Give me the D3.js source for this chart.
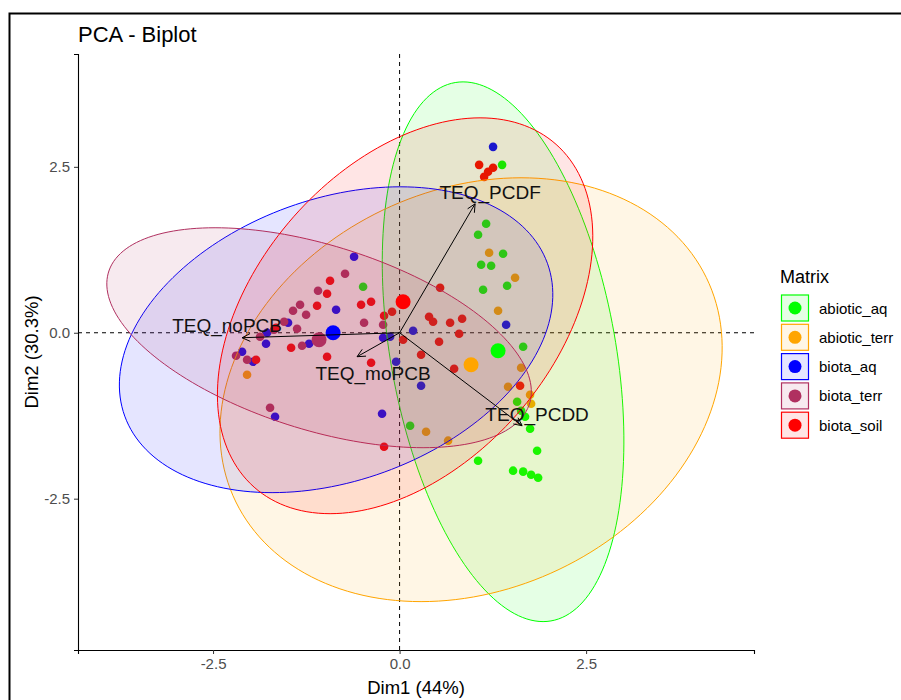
<!DOCTYPE html>
<html>
<head>
<meta charset="utf-8">
<script src="https://cdn.jsdelivr.net/npm/d3@7"></script>
<style>
  body { margin: 0; background: #fff; }
  text { font-family: "Liberation Sans", Arial, sans-serif; }
</style>
</head>
<body>
<div id="chart"></div>
<script>
// groups and colours
const groups = ['abiotic_aq', 'abiotic_terr', 'biota_aq', 'biota_terr', 'biota_soil'];
const groupColors = ['#00FF00', '#FFA500', '#0000FF', '#B03060', '#FF0000'];

// individuals (Dim1, Dim2) per group
const abioticAqDim1 = [1.374, 1.160, 1.052, 1.387, 1.093, 1.227, 1.441, 1.119, -0.489, 1.656, 0.141, 1.575, 1.629, 1.682, 1.749, 1.843, 1.052, 1.521, 1.656, 1.763, 1.857];
const abioticAqDim2 = [2.530, 1.642, 1.476, 1.190, 1.024, 1.009, 0.708, 0.648, 0.693, -0.211, -1.401, -1.039, -1.175, -1.265, -1.446, -1.777, -1.928, -2.078, -2.093, -2.139, -2.184];

const abioticTerrDim1 = [1.200, 1.548, 1.320, 1.629, 1.454, 1.749, 1.763, 0.355, 0.650, -2.044];
const abioticTerrDim2 = [1.205, 0.828, 0.331, -0.527, -0.813, -0.934, -1.069, -1.491, -1.626, -0.633];

const biotaAqDim1 = [1.253, 1.428, 0.181, -0.047, 0.288, -0.235, -0.610, -0.851, -1.495, -1.776, -1.790, -1.213, -0.127, -0.221, -2.111, -1.964, -1.669];
const biotaAqDim2 = [2.801, 0.120, 0.030, -0.437, -0.798, -1.220, 1.145, 0.346, 0.151, 0.000, -0.166, -0.166, -0.060, -0.075, -0.286, -0.437, -1.265];

const biotaTerrDim1 = [-0.731, -1.093, -1.428, -1.334, -1.253, -1.548, -1.374, -0.476, -0.221, -1.307, -1.870, -2.192, -2.044, -1.736, -1.682];
const biotaTerrDim2 = [0.889, 0.633, 0.331, 0.422, 0.271, 0.166, 0.060, 0.151, 0.120, -0.196, -0.060, -0.346, -0.407, -1.130, 0.045];

const biotaSoilDim1 = [-0.932, -0.972, -1.106, -0.516, -0.382, -0.208, -0.101, -1.656, -1.454, -0.972, -0.382, -1.924, -0.208, 0.543, 0.395, 0.449, 0.677, 0.838, 0.798, 0.529, 0.047, 0.288, 0.731, 1.615, 1.066, 1.186, 1.253, 1.133];
const biotaSoilDim2 = [0.783, 0.587, 0.407, 0.422, 0.467, 0.256, 0.316, 0.075, -0.226, -0.361, -0.452, -0.407, -1.717, 0.678, 0.241, 0.166, 0.151, 0.211, -0.015, -0.136, -0.105, -0.331, -0.542, -0.798, 2.530, 2.425, 2.485, 2.349];

// group centroids
const centroidDim1 = [1.320, 0.958, -0.891, -1.079, 0.047];
const centroidDim2 = [-0.271, -0.482, 0.000, -0.105, 0.467];

// concentration ellipses: centre and two conjugate semi-diameters
const ellipseCx = [1.387, 0.958, -0.851, -1.079, 0.074];
const ellipseCy = [-0.286, -0.858, -0.105, -0.075, 0.256];
const ellipseAx = [0.536, 0.670, 0.858, -1.394, 1.005];
const ellipseAy = [-4.066, 3.193, 2.304, 1.657, 2.982];
const ellipseBx = [1.528, 3.298, 2.775, 2.480, 2.306];
const ellipseBy = [0, 0, 0, 0, 0];

// variables (arrows)
const varNames = ['TEQ_PCDF', 'TEQ_noPCB', 'TEQ_moPCB', 'TEQ_PCDD'];
const varDim1 = [1.012, -2.111, -0.570, 1.642];
const varDim2 = [1.943, -0.075, -0.361, -1.401];

const xTicks = [-2.5, 0, 2.5];
const yTicks = [-2.5, 0, 2.5];

const groupDim1 = [abioticAqDim1, abioticTerrDim1, biotaAqDim1, biotaTerrDim1, biotaSoilDim1];
const groupDim2 = [abioticAqDim2, abioticTerrDim2, biotaAqDim2, biotaTerrDim2, biotaSoilDim2];

// layout
const width = 901, height = 700;
const panel = { left: 78, right: 754, top: 54, bottom: 650 };
const labelDx = [15, -15, 16, 15];
const labelDy = [-5, -6, 23, -5];

const svg = d3.select('#chart').append('svg')
  .attr('width', width)
  .attr('height', height);

svg.append('rect').attr('width', width).attr('height', height).attr('fill', '#fff');

// outer frame
svg.append('rect')
  .attr('x', 9.5).attr('y', 13.5)
  .attr('width', 1000).attr('height', 1000)
  .attr('fill', 'none').attr('stroke', '#000').attr('stroke-width', 2);

const x = d3.scaleLinear().domain([-4.31, 4.75]).range([panel.left, panel.right]);
const y = d3.scaleLinear().domain([-4.78, 4.20]).range([panel.bottom, panel.top]);

// reference lines
svg.append('line')
  .attr('x1', panel.left).attr('x2', panel.right)
  .attr('y1', y(0)).attr('y2', y(0))
  .attr('stroke', '#000').attr('stroke-dasharray', '4,4');
svg.append('line')
  .attr('x1', x(0)).attr('x2', x(0))
  .attr('y1', panel.top).attr('y2', panel.bottom)
  .attr('stroke', '#000').attr('stroke-dasharray', '4,4');

// individuals
groups.forEach((g, i) => {
  const pts = groupDim1[i].map((d, j) => [d, groupDim2[i][j]]);
  svg.append('g').selectAll('circle')
    .data(pts)
    .enter()
    .append('circle')
    .attr('cx', d => x(d[0]))
    .attr('cy', d => y(d[1]))
    .attr('r', 4.3)
    .attr('fill', groupColors[i]);
});

// ellipses
const ellipseLine = d3.line()
  .x(d => x(d[0]))
  .y(d => y(d[1]))
  .curve(d3.curveLinearClosed);

groups.forEach((g, i) => {
  const pts = d3.range(0, 360, 2).map(a => {
    const t = a * Math.PI / 180;
    return [
      ellipseCx[i] + Math.cos(t) * ellipseAx[i] + Math.sin(t) * ellipseBx[i],
      ellipseCy[i] + Math.cos(t) * ellipseAy[i] + Math.sin(t) * ellipseBy[i]
    ];
  });
  svg.append('path')
    .attr('d', ellipseLine(pts))
    .attr('fill', groupColors[i])
    .attr('fill-opacity', 0.1)
    .attr('stroke', groupColors[i])
    .attr('stroke-width', 1);
});

// centroids
svg.append('g').selectAll('circle')
  .data(groups)
  .enter()
  .append('circle')
  .attr('cx', (d, i) => x(centroidDim1[i]))
  .attr('cy', (d, i) => y(centroidDim2[i]))
  .attr('r', 7.5)
  .attr('fill', (d, i) => groupColors[i]);

// variable arrows
const arrows = svg.append('g');
varNames.forEach((name, i) => {
  const x0 = x(0), y0 = y(0);
  const x1 = x(varDim1[i]), y1 = y(varDim2[i]);
  const ang = Math.atan2(y1 - y0, x1 - x0);
  const head = 9, spread = Math.PI / 7;
  arrows.append('line')
    .attr('x1', x0).attr('y1', y0).attr('x2', x1).attr('y2', y1)
    .attr('stroke', '#000').attr('stroke-width', 1);
  arrows.append('path')
    .attr('d', `M${x1 - head * Math.cos(ang - spread)},${y1 - head * Math.sin(ang - spread)}L${x1},${y1}L${x1 - head * Math.cos(ang + spread)},${y1 - head * Math.sin(ang + spread)}`)
    .attr('fill', 'none').attr('stroke', '#000').attr('stroke-width', 1);
  arrows.append('text')
    .attr('x', x1 + labelDx[i])
    .attr('y', y1 + labelDy[i])
    .attr('text-anchor', 'middle')
    .attr('font-size', 19)
    .attr('fill', '#111')
    .text(name);
});

// axes
const xAxis = svg.append('g')
  .attr('transform', `translate(0,${panel.bottom})`)
  .call(d3.axisBottom(x).tickValues(xTicks).tickFormat(d => d.toFixed(1)).tickSizeOuter(0).tickSize(4).tickPadding(4));
const yAxis = svg.append('g')
  .attr('transform', `translate(${panel.left},0)`)
  .call(d3.axisLeft(y).tickValues(yTicks).tickFormat(d => d.toFixed(1)).tickSizeOuter(0).tickSize(4).tickPadding(4));

[xAxis, yAxis].forEach(a => {
  a.select('.domain').attr('stroke', '#000').attr('stroke-width', 1.1);
  a.selectAll('.tick line').attr('stroke', '#333');
  a.selectAll('.tick text')
    .attr('fill', '#4D4D4D')
    .attr('font-size', 15)
    .style('font-family', '"Liberation Sans", Arial, sans-serif');
});

// titles
svg.append('text')
  .attr('x', panel.left).attr('y', 42)
  .attr('font-size', 22)
  .attr('fill', '#000')
  .text('PCA - Biplot');

svg.append('text')
  .attr('x', (panel.left + panel.right) / 2).attr('y', 694)
  .attr('text-anchor', 'middle')
  .attr('font-size', 18.5)
  .attr('fill', '#000')
  .text('Dim1 (44%)');

svg.append('text')
  .attr('transform', `translate(38,${(panel.top + panel.bottom) / 2}) rotate(-90)`)
  .attr('text-anchor', 'middle')
  .attr('font-size', 18.5)
  .attr('fill', '#000')
  .text('Dim2 (30.3%)');

// legend
const legend = svg.append('g').attr('transform', 'translate(780,0)');
legend.append('text')
  .attr('x', 0).attr('y', 283)
  .attr('font-size', 18)
  .attr('fill', '#000')
  .text('Matrix');

const keys = legend.selectAll('g.key')
  .data(groups)
  .enter()
  .append('g')
  .attr('class', 'key')
  .attr('transform', (d, i) => `translate(0,${308 + i * 29.3})`);

keys.append('rect')
  .attr('x', 1.5).attr('y', -13)
  .attr('width', 27).attr('height', 26)
  .attr('fill', (d, i) => groupColors[i])
  .attr('fill-opacity', 0.1)
  .attr('stroke', (d, i) => groupColors[i])
  .attr('stroke-width', 1.2);

keys.append('circle')
  .attr('cx', 15).attr('cy', 0)
  .attr('r', 6.5)
  .attr('fill', (d, i) => groupColors[i]);

keys.append('text')
  .attr('x', 39).attr('y', 5.5)
  .attr('font-size', 15)
  .attr('fill', '#000')
  .text(d => d);
</script>
</body>
</html>
